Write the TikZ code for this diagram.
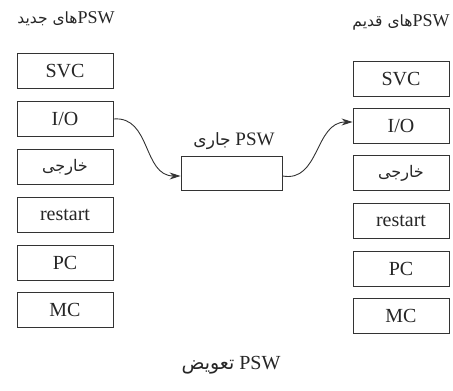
\documentclass[tikz,border=0pt]{standalone}
\usepackage{fontspec}
\setmainfont{Liberation Serif}
\newfontfamily\arfont[Script=Arabic]{DejaVu Sans}
\TeXXeTstate=1
\usetikzlibrary{arrows.meta}
\tikzset{
  reg/.style={draw=black!80, line width=0.9pt, minimum width=96pt, minimum height=35pt, inner sep=0pt, font=\fontsize{20}{22}\selectfont, text=black!85},
  ttl/.style={inner sep=0pt, font=\fontsize{18}{20}\selectfont, text=black!85},
  conn/.style={draw=black!80, line width=0.9pt, -{Stealth[length=11pt,width=7pt]}},
}
\newcommand{\ar}[1]{{\arfont\beginR #1\endR}}
\begin{document}
\begin{tikzpicture}[x=1pt,y=-1pt]
\useasboundingbox (0,0) rectangle (453,391);
% left column: new PSWs
\node[ttl] (tnew) at (66,19) {{\fontsize{15.5}{17}\selectfont\ar{های جدید}}PSW};
\node[reg] (svc1) at (65,71) {SVC};
\node[reg] (io1) at (65,119) {I/O};
\node[reg] (ext1) at (65,167) {\fontsize{16}{18}\selectfont\ar{خارجی}};
\node[reg] (rst1) at (65,215) {restart};
\node[reg] (pc1) at (65,263) {PC};
\node[reg] (mc1) at (65,310) {MC};
% right column: old PSWs
\node[ttl] (told) at (401,22) {{\fontsize{15.5}{17}\selectfont\ar{های قدیم}}PSW};
\node[reg] (svc2) at (401,79) {SVC};
\node[reg] (io2) at (401,126) {I/O};
\node[reg] (ext2) at (401,173) {\fontsize{16}{18}\selectfont\ar{خارجی}};
\node[reg] (rst2) at (401,221) {restart};
\node[reg] (pc2) at (401,269) {PC};
\node[reg] (mc2) at (401,316) {MC};
% current PSW
\node[reg, minimum width=101pt, minimum height=34pt] (cur) at (231.5,173) {};
\node[ttl, font=\fontsize{19}{21}\selectfont] (tcur) at (234,141) {{\fontsize{17}{19}\selectfont\ar{جاری}} PSW};
% caption
\node[ttl, font=\fontsize{20}{22}\selectfont] (cap) at (231,365) {{\fontsize{19}{21}\selectfont\ar{تعویض}} PSW};
% connectors
\draw[conn] (io1.east) to[out=5, in=180, looseness=1.1] ([yshift=-3pt]cur.west);
\draw[conn] ([yshift=-3pt]cur.east) to[out=-10, in=180, looseness=1.1] ([yshift=4pt]io2.west);
\end{tikzpicture}
\end{document}
